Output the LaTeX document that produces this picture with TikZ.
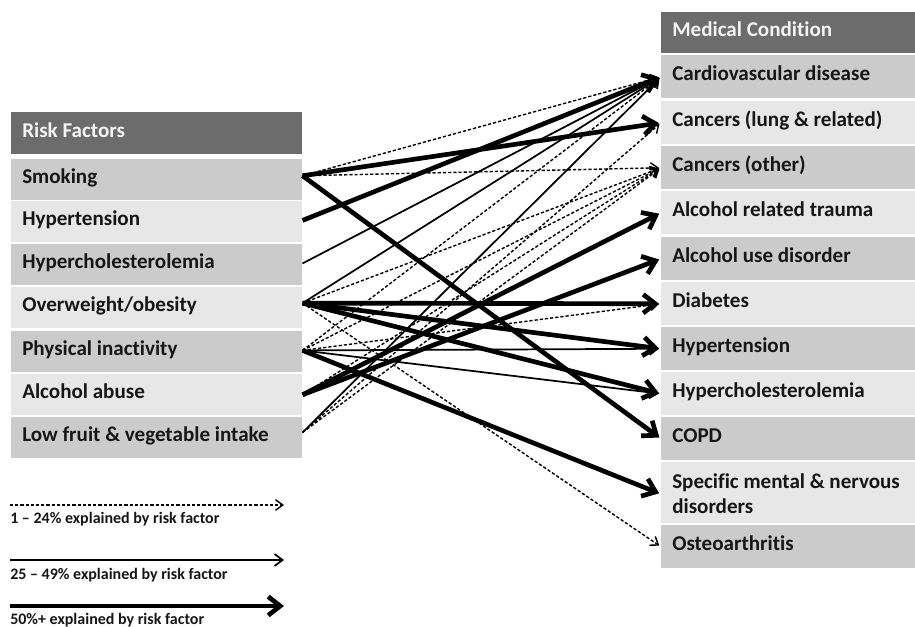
\documentclass[tikz,border=0pt]{standalone}
\usepackage{fontspec}
\setmainfont{Carlito}[Ligatures=NoCommon]
\usetikzlibrary{arrows.meta}
\definecolor{hdr}{RGB}{108,108,108}
\definecolor{dk}{RGB}{203,203,203}
\definecolor{lt}{RGB}{231,231,231}
\definecolor{ink}{RGB}{22,22,22}
\definecolor{htext}{RGB}{244,244,244}
\newcommand{\lftxt}[1]{\hbox to 201.75pt{#1\hfil}}
\newcommand{\rttxt}[1]{\hbox to 174pt{#1\hfil}}
\begin{document}
\begin{tikzpicture}[x=0.75pt,y=-0.75pt,
  box/.style={anchor=north west, inner xsep=8.25pt, inner ysep=0pt,
    font=\bfseries\fontsize{15.8pt}{18.75pt}\selectfont, text=ink,
    text height=9.75pt, text depth=3.75pt},
  lbox/.style={box, minimum width=218.25pt, minimum height=30.75pt},
  rbox/.style={box, minimum width=190.5pt, minimum height=32.25pt},
  hdrbox/.style={fill=hdr, text=htext},
  legtext/.style={anchor=base west, inner sep=0pt, font=\bfseries\fontsize{12pt}{14pt}\selectfont, text=ink},
  thk/.style={line width=3.5pt, draw=black, shorten >=1.5pt, -{Straight Barb[length=9pt,width=14pt]}},
  thn/.style={line width=1.3pt, draw=black, shorten >=1.5pt, -{Straight Barb[length=6pt,width=9pt]}},
  dsh/.style={line width=1.05pt, draw=black, dash pattern=on 2.4pt off 1.5pt, shorten >=1.5pt, -{Straight Barb[length=5.5pt,width=8pt]}}
]
\useasboundingbox (0,0) rectangle (915,627);

% left column
\node[lbox, hdrbox, minimum height=31.5pt] (lh) at (11,112) {\lftxt{Risk Factors}};
\node[lbox, fill=dk] (s1) at (11,159) {\lftxt{Smoking}};
\node[lbox, fill=lt] (s2) at (11,201) {\lftxt{Hypertension}};
\node[lbox, fill=dk] (s3) at (11,244) {\lftxt{Hypercholesterolemia}};
\node[lbox, fill=lt] (s4) at (11,287) {\lftxt{Overweight/obesity}};
\node[lbox, fill=dk] (s5) at (11,331) {\lftxt{Physical inactivity}};
\node[lbox, fill=lt] (s6) at (11,374) {\lftxt{Alcohol abuse}};
\node[lbox, fill=dk] (s7) at (11,417) {\lftxt{Low fruit \& vegetable intake}};

% right column
\node[rbox, hdrbox, minimum height=30.75pt] (rh) at (661,12) {\rttxt{Medical Condition}};
\node[rbox, fill=dk] (t1) at (661,55) {\rttxt{Cardiovascular disease}};
\node[rbox, fill=lt] (t2) at (661,101) {\rttxt{Cancers (lung \& related)}};
\node[rbox, fill=dk] (t3) at (661,146) {\rttxt{Cancers (other)}};
\node[rbox, fill=lt] (t4) at (661,191) {\rttxt{Alcohol related trauma}};
\node[rbox, fill=dk] (t5) at (661,237) {\rttxt{Alcohol use disorder}};
\node[rbox, fill=lt] (t6) at (661,282) {\rttxt{Diabetes}};
\node[rbox, fill=dk] (t7) at (661,327) {\rttxt{Hypertension}};
\node[rbox, fill=lt] (t8) at (661,372) {\rttxt{Hypercholesterolemia}};
\node[rbox, fill=dk] (t9) at (661,417) {\rttxt{COPD}};
\node[rbox, fill=lt, minimum height=45.75pt, text height=35.25pt, text depth=3.75pt] (t10) at (661,462)
  {\rttxt{\vbox{\hbox{Specific mental \& nervous}\hbox{disorders}}}};
\node[rbox, fill=dk] (t11) at (661,525) {\rttxt{Osteoarthritis}};

% origins
\coordinate (oS) at ([yshift=3pt]s1.east);
\coordinate (oHT) at ([yshift=1pt]s2.east);
\coordinate (oHC) at ([yshift=1pt]s3.east);
\coordinate (oOW) at ([yshift=3.5pt]s4.east);
\coordinate (oPI) at ([yshift=1pt]s5.east);
\coordinate (oAA) at (s6.east);
\coordinate (oLF) at ([yshift=4pt]s7.east);

% smoking
\draw[dsh] (oS) -- (t1.west);
\draw[thk] (oS) -- (t2.west);
\draw[dsh] (oS) -- (t3.west);
\draw[thk] (oS) -- (t9.west);
% hypertension
\draw[thk] (oHT) -- (t1.west);
% hypercholesterolemia
\draw[thn] (oHC) -- (t1.west);
% overweight / obesity
\draw[thn] (oOW) -- (t1.west);
\draw[dsh] (oOW) -- (t3.west);
\draw[thk] (oOW) -- (t6.west);
\draw[thk] (oOW) -- (t7.west);
\draw[thk] (oOW) -- (t8.west);
\draw[dsh] (oOW) -- (t11.west);
% physical inactivity
\draw[dsh] (oPI) -- (t1.west);
\draw[dsh] (oPI) -- (t3.west);
\draw[dsh] (oPI) -- (t6.west);
\draw[thn] (oPI) -- (t7.west);
\draw[thn] (oPI) -- (t8.west);
\draw[thk] (oPI) -- ([yshift=-1pt]t10.west);
% alcohol abuse
\draw[dsh] (oAA) -- (t3.west);
\draw[thk] (oAA) -- (t4.west);
\draw[thk] (oAA) -- (t5.west);
% low fruit & vegetable intake
\draw[thn] (oLF) -- (t1.west);
\draw[dsh] (oLF) -- (t2.west);
\draw[dsh] (oLF) -- (t3.west);

% legend
\coordinate (la1) at (10,505);
\coordinate (lb1) at (286,505);
\coordinate (la2) at (10,560);
\coordinate (lb2) at (286,560);
\coordinate (la3) at (10,606);
\coordinate (lb3) at (286,606);
\draw[dsh] (la1) -- (lb1);
\draw[thn] (la2) -- (lb2);
\draw[thk] (la3) -- (lb3);
\node[legtext] (lt1) at (10,523) {1 – 24\% explained by risk factor};
\node[legtext] (lt2) at (10,580) {25 – 49\% explained by risk factor};
\node[legtext] (lt3) at (10,624) {50\%+ explained by risk factor};
\end{tikzpicture}
\end{document}
